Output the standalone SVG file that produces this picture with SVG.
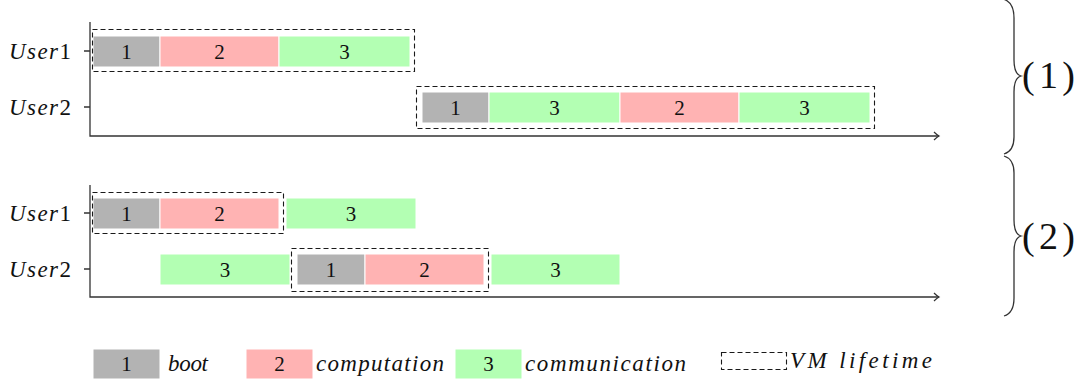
<svg xmlns="http://www.w3.org/2000/svg" width="1086" height="380" viewBox="0 0 1086 380">
<defs>
<style>
.g{fill:#b3b3b3;stroke:#fff;stroke-width:1}
.p{fill:#ffb3b3;stroke:#fff;stroke-width:1}
.c{fill:#b3ffb3;stroke:#fff;stroke-width:1}
.d{fill:none;stroke:#1a1a1a;stroke-width:1.1;stroke-dasharray:5,3}
.n{font-family:"Liberation Serif",serif;font-size:21px;fill:#111;text-anchor:middle}
.lab{font-family:"Liberation Serif",serif;font-size:23px;fill:#111}
.it{font-style:italic}
.ax{stroke:#333;stroke-width:1.3;fill:none}
.br{stroke:#333;stroke-width:1.3;fill:none}
.big{font-family:"Liberation Serif",serif;font-size:38px;fill:#111}
</style>
<marker id="arr" markerWidth="10" markerHeight="10" refX="6" refY="5" orient="auto" markerUnits="userSpaceOnUse">
<path d="M1,1 Q4,4 6,5 Q4,6 1,9" stroke="#333" stroke-width="1.2" fill="none"/>
</marker>
</defs>
<rect width="1086" height="380" fill="#fff"/>

<g id="axes">
<path class="ax" d="M90,22 V136 H939" marker-end="url(#arr)"/>
<path class="ax" d="M84,51 H90 M84,107 H90"/>
<path class="ax" d="M90,185 V297 H939" marker-end="url(#arr)"/>
<path class="ax" d="M84,213 H90 M84,269 H90"/>
</g>

<g id="labels">
<text class="lab" x="9" y="59" textLength="62"><tspan class="it">User</tspan>1</text>
<text class="lab" x="9" y="115" textLength="62"><tspan class="it">User</tspan>2</text>
<text class="lab" x="9" y="221" textLength="62"><tspan class="it">User</tspan>1</text>
<text class="lab" x="9" y="277" textLength="62"><tspan class="it">User</tspan>2</text>
</g>

<g id="top-user1">
<rect class="g" x="93" y="36" width="67" height="31"/><text class="n" x="126.5" y="58.5">1</text>
<rect class="p" x="160" y="36" width="119" height="31"/><text class="n" x="219.5" y="58.5">2</text>
<rect class="c" x="279" y="36" width="131" height="31"/><text class="n" x="344.5" y="58.5">3</text>
<rect class="d" x="92.5" y="29.5" width="322" height="42"/>
</g>

<g id="top-user2">
<rect class="g" x="422" y="92" width="67" height="31"/><text class="n" x="455.5" y="114.5">1</text>
<rect class="c" x="489" y="92" width="131" height="31"/><text class="n" x="554.5" y="114.5">3</text>
<rect class="p" x="620" y="92" width="119" height="31"/><text class="n" x="679.5" y="114.5">2</text>
<rect class="c" x="739" y="92" width="131" height="31"/><text class="n" x="804.5" y="114.5">3</text>
<rect class="d" x="416.5" y="86.5" width="458" height="42"/>
</g>

<g id="bottom-user1">
<rect class="g" x="93" y="198" width="67" height="31"/><text class="n" x="126.5" y="220.5">1</text>
<rect class="p" x="160" y="198" width="119" height="31"/><text class="n" x="219.5" y="220.5">2</text>
<rect class="d" x="92.5" y="192.5" width="191" height="41"/>
<rect class="c" x="286" y="198" width="130" height="31"/><text class="n" x="351" y="220.5">3</text>
</g>

<g id="bottom-user2">
<rect class="c" x="160" y="254" width="130" height="31"/><text class="n" x="225" y="276.5">3</text>
<rect class="g" x="297" y="254" width="68" height="31"/><text class="n" x="331" y="276.5">1</text>
<rect class="p" x="365" y="254" width="119" height="31"/><text class="n" x="424.5" y="276.5">2</text>
<rect class="d" x="291.5" y="248.5" width="197" height="43"/>
<rect class="c" x="491" y="254" width="129" height="31"/><text class="n" x="555.5" y="276.5">3</text>
</g>

<g id="braces">
<path class="br" d="M1003,-1 Q1014,2 1014,18 L1014,60 Q1014,74 1021,76 Q1014,78 1014,92 L1014,137 Q1014,151 1004,154"/>
<text class="big" x="1022" y="88" textLength="53">(1)</text>
<path class="br" d="M1004,156 Q1014,159 1014,173 L1014,220 Q1014,234 1021,236 Q1014,238 1014,252 L1014,298 Q1014,313 1004,316"/>
<text class="big" x="1022" y="249" textLength="53">(2)</text>
</g>

<g id="legend">
<rect class="g" x="93" y="349" width="67" height="30"/><text class="n" x="126.5" y="371">1</text>
<text class="lab it" x="168" y="371" textLength="40">boot</text>
<rect class="p" x="246" y="349" width="67" height="30"/><text class="n" x="279.5" y="371">2</text>
<text class="lab it" x="316" y="371" textLength="128">computation</text>
<rect class="c" x="455" y="349" width="67" height="30"/><text class="n" x="488.5" y="371">3</text>
<text class="lab it" x="525" y="371" textLength="161">communication</text>
<rect class="d" x="721.5" y="352.5" width="65" height="17"/>
<text class="lab it" x="790" y="368" textLength="142">VM lifetime</text>
</g>
</svg>
